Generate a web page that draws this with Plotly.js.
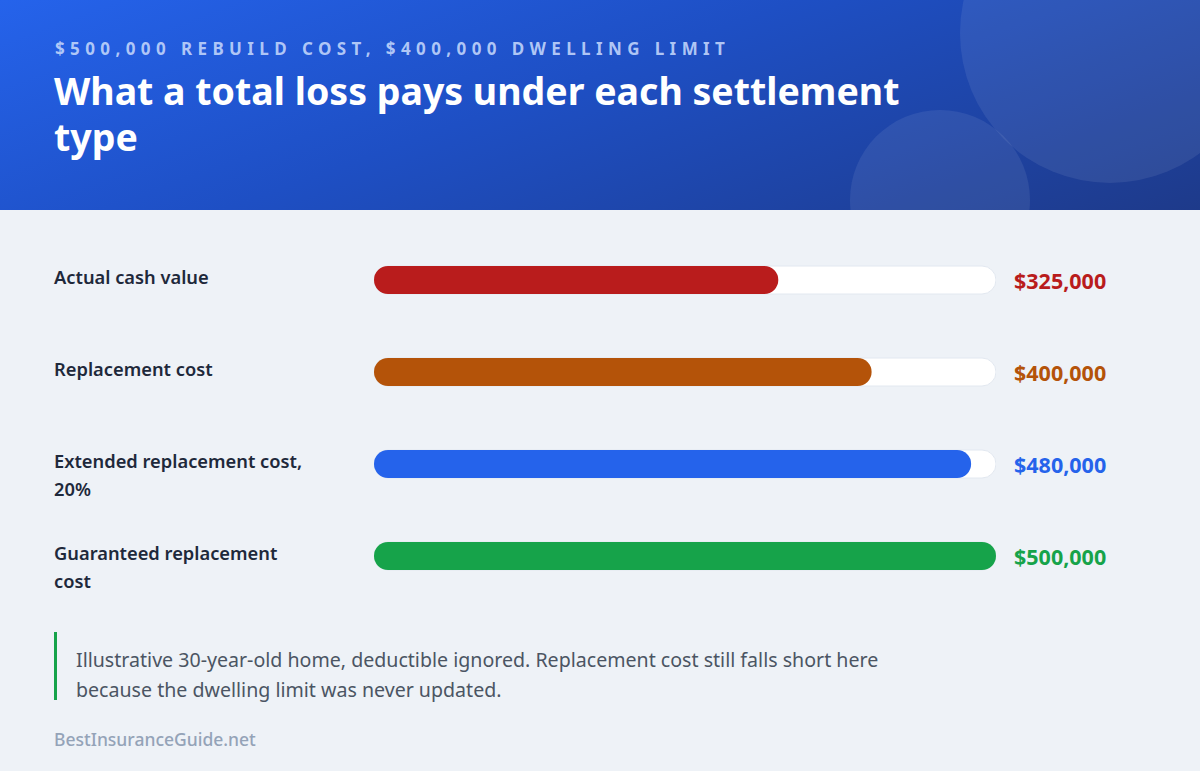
<!DOCTYPE html>
<html>
<head>
<meta charset="utf-8">
<script src="https://cdn.plot.ly/plotly-3.0.1.min.js"></script>
<style>
  html, body { margin: 0; padding: 0; }
  body {
    width: 1200px; height: 771px; overflow: hidden; position: relative;
    background: #eef2f7; font-family: "Noto Sans", "Open Sans", sans-serif;
  }
  .header {
    position: absolute; left: 0; top: 0; width: 1200px; height: 210px; overflow: hidden;
    background: linear-gradient(160deg, #2563eb 0%, #1e4fc4 45%, #1e3a8a 100%);
  }
  .circle { position: absolute; border-radius: 50%; background: rgba(255,255,255,0.08); }
  .c1 { width: 300px; height: 300px; left: 960px; top: -117px; }
  .c2 { width: 180px; height: 180px; left: 850px; top: 110px; }
  .kicker {
    position: absolute; left: 55px; top: 37px; line-height: 24px; white-space: nowrap;
    font-size: 17px; font-weight: 700; letter-spacing: 5.4px; color: rgba(190, 210, 250, 0.92);
  }
  .title {
    position: absolute; left: 54px; top: 68px; width: 900px; line-height: 46px;
    font-size: 37.5px; font-weight: 700; color: #ffffff;
  }
  #plot { position: absolute; left: 0; top: 210px; width: 1200px; height: 400px; }
  .note {
    position: absolute; left: 54px; top: 632px; height: 55px; padding-top: 13px;
    border-left: 3px solid #16a34a; padding-left: 19px; width: 830px;
    font-size: 19.6px; line-height: 30px; color: #4b5563;
  }
  .credit {
    position: absolute; left: 54px; top: 727px; line-height: 24px;
    font-size: 17.5px; font-weight: 500; color: #94a3b8;
  }
</style>
</head>
<body>
<div class="header">
  <div class="circle c1"></div>
  <div class="circle c2"></div>
  <div class="kicker">$500,000 REBUILD COST, $400,000 DWELLING LIMIT</div>
  <div class="title">What a total loss pays under each settlement type</div>
</div>
<div id="plot"></div>
<div class="note">Illustrative 30-year-old home, deductible ignored. Replacement cost still falls short here because the dwelling limit was never updated.</div>
<div class="credit">BestInsuranceGuide.net</div>

<script>
// settlement types, top to bottom (<br> marks where the label wraps)
const categories = [
  "Actual cash value",
  "Replacement cost",
  "Extended replacement cost,<br>20%",
  "Guaranteed replacement<br>cost"
]
const payouts = [325000, 400000, 480000, 500000]
const valueLabels = ["$325,000", "$400,000", "$480,000", "$500,000"]
const rebuildCost = 500000
const barColors = ["#b91c1c", "#b45309", "#2563eb", "#16a34a"]

// geometry of the pill bars
const plotLeft = 374, plotRight = 204
const rowPx = 92, barPx = 28
const plotWidth = 1200 - plotLeft - plotRight
const barFrac = barPx / rowPx

const ids = categories.map((c, i) => i)

// white track = full rebuild cost
const track = {
  type: "bar",
  orientation: "h",
  y: ids,
  x: ids.map(() => rebuildCost),
  base: 0,
  width: barFrac,
  marker: { color: "#ffffff", cornerradius: barPx / 2, line: { color: "#e2e8f0", width: 1 } },
  hoverinfo: "skip"
}

const paid = {
  type: "bar",
  orientation: "h",
  y: ids,
  x: payouts,
  base: 0,   // explicit base keeps both ends of the pill rounded
  width: barFrac,
  marker: { color: barColors, cornerradius: barPx / 2, line: { width: 0 } },
  hoverinfo: "skip"
}

const annotations = []
categories.forEach((label, i) => {
  label.split("<br>").forEach((line, j) => {
    annotations.push({
      xref: "paper", yref: "y",
      x: (52 - plotLeft) / plotWidth, y: i,
      xanchor: "left", yanchor: "top",
      yshift: 18 - j * 28,
      text: line, showarrow: false,
      font: { family: "Noto Sans", size: 18.3, weight: 600, color: "#1e293b" }
    })
  })
  annotations.push({
    xref: "x", yref: "y",
    x: rebuildCost, y: i,
    xanchor: "left", yanchor: "middle",
    xshift: 16,
    text: valueLabels[i], showarrow: false,
    font: { family: "Noto Sans", size: 21.5, weight: 700, color: barColors[i] }
  })
})

const layout = {
  width: 1200,
  height: 400,
  margin: { l: plotLeft, r: plotRight, t: 24, b: 8, pad: 0 },
  paper_bgcolor: "rgba(0,0,0,0)",
  plot_bgcolor: "rgba(0,0,0,0)",
  barmode: "overlay",
  showlegend: false,
  xaxis: { range: [0, rebuildCost], visible: false, fixedrange: true },
  yaxis: { range: [3.5, -0.5], visible: false, fixedrange: true },
  annotations: annotations
}

Plotly.newPlot("plot", [track, paid], layout, { displayModeBar: false, staticPlot: true })
</script>
</body>
</html>
